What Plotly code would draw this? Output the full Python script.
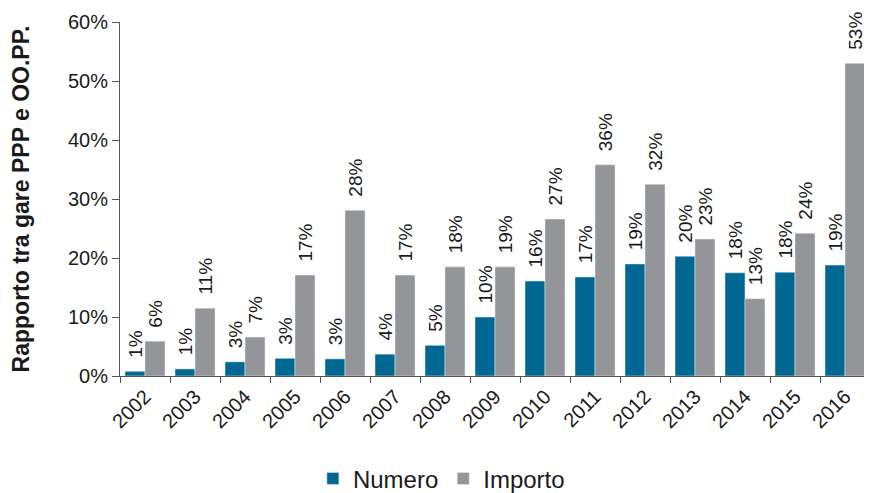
import plotly.graph_objects as go

years = ["2002","2003","2004","2005","2006","2007","2008","2009","2010","2011","2012","2013","2014","2015","2016"]
numero = [0.8, 1.2, 2.4, 3.0, 2.9, 3.7, 5.2, 10.0, 16.1, 16.8, 19.0, 20.3, 17.5, 17.6, 18.8]
importo = [5.9, 11.5, 6.6, 17.1, 28.1, 17.1, 18.5, 18.5, 26.6, 35.8, 32.5, 23.2, 13.1, 24.2, 53.0]
numero_lbl = ["1%","1%","3%","3%","3%","4%","5%","10%","16%","17%","19%","20%","18%","18%","19%"]
importo_lbl = ["6%","11%","7%","17%","28%","17%","18%","19%","27%","36%","32%","23%","13%","24%","53%"]

pad = "\u00a0\u00a0"
font = "Liberation Sans, Arial, sans-serif"
fig = go.Figure()
fig.add_bar(x=years, y=numero, name="Numero", marker_color="#006892",
            text=[pad + t for t in numero_lbl], textposition="outside", textangle=-90,
            constraintext="none", textfont=dict(size=19, color="#1a1a1a"), cliponaxis=False)
fig.add_bar(x=years, y=importo, name="Importo", marker_color="#939598",
            text=[pad + t for t in importo_lbl], textposition="outside", textangle=-90,
            constraintext="none", textfont=dict(size=19, color="#1a1a1a"), cliponaxis=False)

fig.update_layout(
    width=872, height=493,
    margin=dict(l=112, r=10, t=14, b=125, autoexpand=False),
    paper_bgcolor="white", plot_bgcolor="white",
    barmode="group", bargap=0.2, bargroupgap=0,
    font=dict(family=font, size=20, color="#1a1a1a"),
    uniformtext=dict(minsize=19, mode="show"),
    legend=dict(orientation="h", xref="container", x=0.497, xanchor="center",
                yref="container", y=0.045, yanchor="middle",
                font=dict(size=24), itemwidth=30, traceorder="normal"),
    showlegend=True,
)
fig.update_xaxes(type="category", tickangle=-45, showline=True, linecolor="#555555",
                 ticks="outside", tickson="boundaries", ticklen=6, tickcolor="#555555",
                 tickfont=dict(size=20), automargin=False)
fig.update_yaxes(range=[0, 60], tickvals=[0,10,20,30,40,50,60],
                 ticktext=["0%","10%","20%","30%","40%","50%","60%"],
                 showline=True, linecolor="#555555", ticks="outside", ticklen=7,
                 tickcolor="#555555", showgrid=False, zeroline=False,
                 tickfont=dict(size=20), automargin=False,
                 title=dict(text="<b>Rapporto tra gare PPP e OO.PP.</b>", font=dict(size=23), standoff=36))
fig.write_html("out.html")
